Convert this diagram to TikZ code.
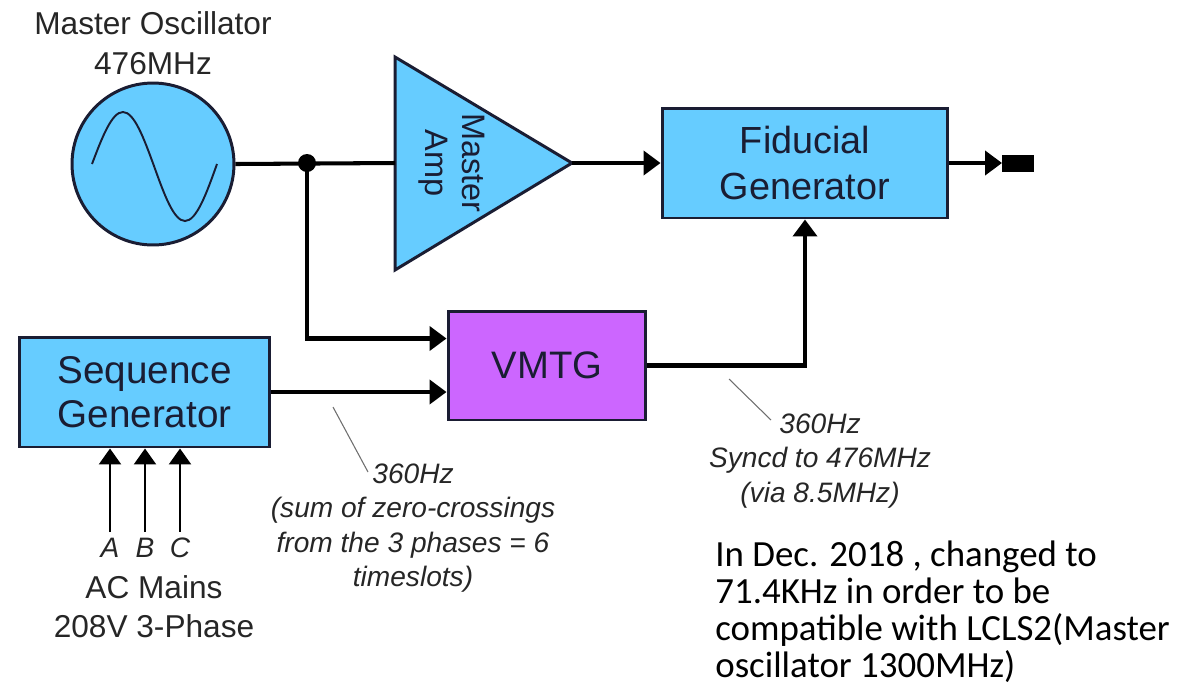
\documentclass[tikz,border=0pt]{standalone}
\usepackage{fontspec}
\setmainfont{Liberation Sans}
\newfontfamily\notefont{Carlito}
\usepackage{tikz}
\usetikzlibrary{positioning, arrows.meta, calc}
\definecolor{oscBlue}{HTML}{66CCFF}
\definecolor{vmtgFill}{HTML}{CC66FF}
\definecolor{ink}{HTML}{1A1D33}
\definecolor{muted}{HTML}{6E6E6E}

\begin{document}
\begin{tikzpicture}[x=0.02cm, y=-0.02cm,block/.style={draw=ink, line width=1.7pt, fill=oscBlue, align=center, text=ink, inner sep=0pt},wire/.style={draw=black, line width=2.3pt},sig/.style={wire, -{Triangle[length=0.34cm, width=0.48cm]}},phase/.style={draw=black, line width=1.4pt, -{Triangle[length=0.32cm, width=0.44cm]}},note/.style={font=\fontsize{16}{19.5}\selectfont\itshape, align=center, text=black!85},leader/.style={draw=muted, line width=0.6pt}]
\useasboundingbox (0,0) rectangle (1202,691);
% oscillator
\node[circle, draw=ink, line width=1.7pt, fill=oscBlue, minimum size=3.24cm, inner sep=0pt] (osc) at (153,164) {};
\draw[ink, line width=1.1pt] (92,164) sin (123,112) cos (154,166) sin (185,221) cos (217,164);
\node[font=\fontsize{18}{23}\selectfont, align=center, text=black!85] (oschdr) at (153,43) {Master Oscillator\\476MHz};
% master amp
\coordinate (ampin) at (395,163);
\coordinate (ampout) at (572,163);
\filldraw[draw=ink, line width=1.7pt, fill=oscBlue] (395,57) -- (ampout) -- (395,270) -- cycle;
\node[rotate=-90, align=center, text=ink, font=\fontsize{18.5}{21}\selectfont] (amplbl) at (452,163) {Master\\Amp};
% blocks
\node[block, minimum width=5.72cm, minimum height=2.2cm, font=\fontsize{21.5}{26.5}\selectfont] (fid) at (805,163) {Fiducial\\Generator};
\node[block, fill=vmtgFill, minimum width=3.96cm, minimum height=2.18cm, font=\fontsize{21.8}{26}\selectfont] (vmtg) at (547,365.5) {VMTG};
\node[block, minimum width=5.02cm, minimum height=2.2cm, font=\fontsize{22}{25}\selectfont] (seqgen) at (144.5,392) {Sequence\\Generator};
\node[fill=black, minimum width=0.64cm, minimum height=0.34cm, inner sep=0pt, anchor=west] (plug) at (1002,163) {};
% wiring
\coordinate (split) at (307,163);
\draw[wire] (osc.east) -- (ampin);
\fill (split) circle[radius=0.18cm];
\draw[sig] (ampout) -- (fid.west);
\draw[sig] (fid.east) -- (plug.west);
\draw[sig] (split) |- ($(vmtg.west)+(0,-27)$);
\draw[sig] (seqgen.east) -- (seqgen.east -| vmtg.west);
\draw[sig] (vmtg.east) -| (fid.south);
% three phases
\foreach \ph/\px in {A/110, B/145, C/180} {
  \node[font=\fontsize{16}{18}\selectfont\itshape, text=black!85] (ph\ph) at (\px,548) {\ph};
  \draw[phase] (ph\ph.north) -- (ph\ph.north |- seqgen.south);
}
\node[font=\fontsize{18}{22}\selectfont, align=center, text=black!85] (mains) at (154,607) {AC Mains\\208V 3-Phase};
% labels
\node[note] (seqlbl) at (413,528) {360Hz\\(sum of zero-crossings\\from the 3 phases = 6\\timeslots)};
\node[note] (vmtglbl) at (820,461) {360Hz\\Syncd to 476MHz\\(via 8.5MHz)};
\coordinate (seqtap) at (333,407);
\coordinate (seqtip) at (368,472);
\draw[leader] (seqtap) -- (seqtip);
\coordinate (vmtgtap) at (729,379);
\coordinate (vmtgtip) at (771,420);
\draw[leader] (vmtgtap) -- (vmtgtip);
\node[font=\notefont\fontsize{21}{20.9}\selectfont, align=left, anchor=north west, inner sep=0pt] (change) at (715,541) {In Dec. 2018 , changed to\\71.4KHz in order to be\\compatible with LCLS2(Master\\oscillator 1300MHz)};
\end{tikzpicture}
\end{document}
